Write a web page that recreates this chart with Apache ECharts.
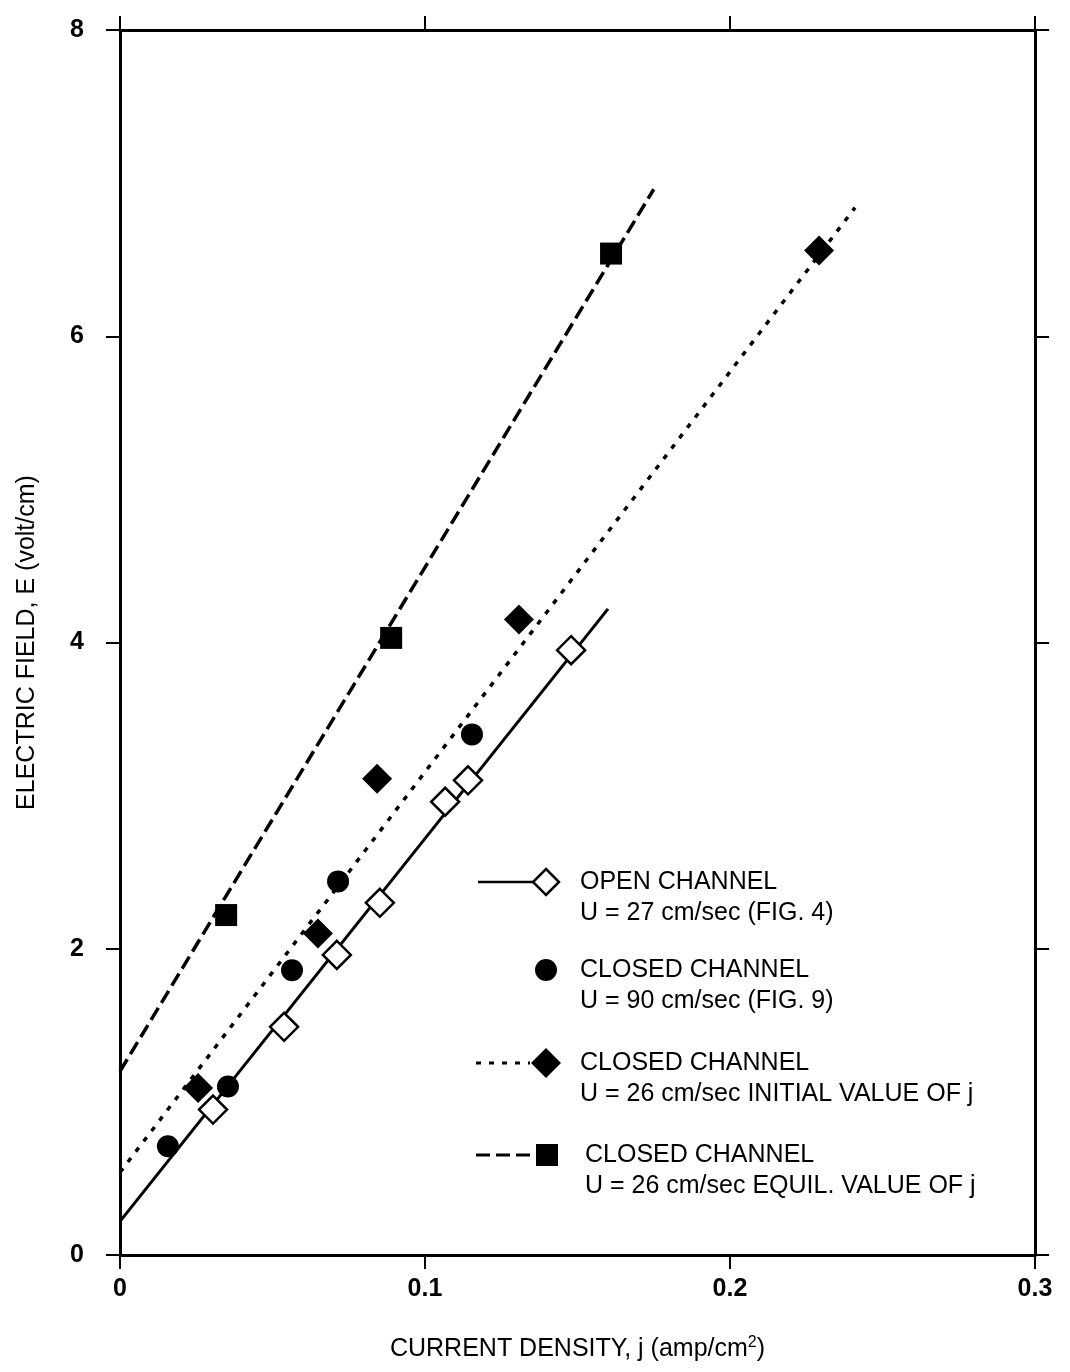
<!DOCTYPE html>
<html><head><meta charset="utf-8">
<script src="https://cdn.jsdelivr.net/npm/echarts@6/dist/echarts.min.js"></script>
<style>html,body{margin:0;padding:0;background:#fff}#c{width:1070px;height:1372px}</style>
</head><body><div id="c"></div>
<script>
// Data
const openJ = [0.0305, 0.0538, 0.0711, 0.0852, 0.1066, 0.1141, 0.1479];
const openE = [0.95, 1.49, 1.96, 2.30, 2.96, 3.10, 3.95];
const closed90J = [0.0157, 0.0354, 0.0564, 0.0715, 0.1154];
const closed90E = [0.71, 1.10, 1.86, 2.44, 3.40];
const initJ = [0.0256, 0.0649, 0.0843, 0.1308, 0.2292];
const initE = [1.09, 2.10, 3.11, 4.15, 6.56];
const equilJ = [0.0348, 0.0889, 0.161];
const equilE = [2.22, 4.03, 6.54];
// fitted lines (end points)
const openFitJ = [0, 0.160];  const openFitE = [0.22, 4.22];
const initFitJ = [0, 0.241];  const initFitE = [0.54, 6.84];
const equilFitJ = [0, 0.175]; const equilFitE = [1.20, 6.96];
// axis ticks
const xTicks = [0, 0.1, 0.2, 0.3];
const yTicks = [0, 2, 4, 6, 8];
const xLabels = ['0', '0.1', '0.2', '0.3'];
const yLabels = ['0', '2', '4', '6', '8'];
const legendLines = [
  ['OPEN CHANNEL', 'U = 27 cm/sec (FIG. 4)'],
  ['CLOSED CHANNEL', 'U = 90 cm/sec (FIG. 9)'],
  ['CLOSED CHANNEL', 'U = 26 cm/sec INITIAL VALUE OF j'],
  ['CLOSED CHANNEL', 'U = 26 cm/sec EQUIL. VALUE OF j']
];

const zip = (a, b) => a.map((v, i) => [v, b[i]]);
const FONT = 'Liberation Sans';
const fmtX = v => { const i = xTicks.findIndex(t => Math.abs(t - v) < 1e-9); return i >= 0 ? xLabels[i] : ''; };
const fmtY = v => { const i = yTicks.findIndex(t => Math.abs(t - v) < 1e-9); return i >= 0 ? yLabels[i] : ''; };

const axisCommon = {
  axisLine: { show: true, onZero: false, lineStyle: { color: '#000', width: 3 } },
  axisTick: { show: true, length: 14, lineStyle: { color: '#000', width: 2 } },
  splitLine: { show: false }
};

const chart = echarts.init(document.getElementById('c'), null, { renderer: 'canvas' });

// legend graphics
const lx = 478, ly = [882, 970, 1063, 1155], lh = 31;
const g = [];
g.push({ type: 'line', shape: { x1: lx, y1: ly[0], x2: lx + 56, y2: ly[0] }, style: { stroke: '#000', lineWidth: 2.5 } });
g.push({ type: 'polygon', shape: { points: [[546, ly[0] - 13], [559, ly[0]], [546, ly[0] + 13], [533, ly[0]]] }, style: { fill: '#fff', stroke: '#000', lineWidth: 2.5 } });
g.push({ type: 'circle', shape: { cx: 546, cy: ly[1], r: 11 }, style: { fill: '#000' } });
g.push({ type: 'line', shape: { x1: lx - 2, y1: ly[2], x2: lx + 52, y2: ly[2] }, style: { stroke: '#000', lineWidth: 3, lineDash: [5, 8] } });
g.push({ type: 'polygon', shape: { points: [[546, ly[2] - 15], [561, ly[2]], [546, ly[2] + 15], [531, ly[2]]] }, style: { fill: '#000' } });
g.push({ type: 'line', shape: { x1: lx - 2, y1: ly[3], x2: lx + 60, y2: ly[3] }, style: { stroke: '#000', lineWidth: 3, lineDash: [14, 6] } });
g.push({ type: 'rect', shape: { x: 536, y: ly[3] - 11, width: 22, height: 22 }, style: { fill: '#000' } });
const tx = [580, 580, 580, 585];
legendLines.forEach((pair, i) => {
  pair.forEach((t, k) => {
    g.push({ type: 'text', x: tx[i], y: ly[i] + k * lh, style: { text: t, font: '25px "' + FONT + '"', fill: '#000', textVerticalAlign: 'middle' } });
  });
});

chart.setOption({
  animation: false,
  backgroundColor: '#fff',
  grid: { left: 120, right: 35, top: 30, bottom: 117 },
  xAxis: [
    Object.assign({}, axisCommon, {
      type: 'value', min: 0, max: 0.3, interval: 0.1, position: 'bottom',
      axisLabel: { formatter: fmtX, color: '#000', fontFamily: FONT, fontSize: 25, fontWeight: 'bold', margin: 22 },
      name: 'CURRENT DENSITY, j (amp/cm{sup|2})', nameLocation: 'middle', nameGap: 80,
      nameTextStyle: { color: '#000', fontFamily: FONT, fontSize: 25, rich: { sup: { fontSize: 16, verticalAlign: 'top', padding: [0, 0, 12, 0], color: '#000', fontFamily: FONT } } }
    }),
    Object.assign({}, axisCommon, {
      type: 'value', min: 0, max: 0.3, interval: 0.1, position: 'top',
      axisLabel: { show: false }
    })
  ],
  yAxis: [
    Object.assign({}, axisCommon, {
      type: 'value', min: 0, max: 8, interval: 2, position: 'left',
      axisLabel: { formatter: fmtY, color: '#000', fontFamily: FONT, fontSize: 25, fontWeight: 'bold', margin: 36 },
      name: 'ELECTRIC FIELD, E (volt/cm)', nameLocation: 'middle', nameGap: 80, nameRotate: 90,
      nameTextStyle: { color: '#000', fontFamily: FONT, fontSize: 25 }
    }),
    Object.assign({}, axisCommon, {
      type: 'value', min: 0, max: 8, interval: 2, position: 'right',
      axisLabel: { show: false }
    })
  ],
  series: [
    { type: 'line', data: zip(openFitJ, openFitE), showSymbol: false, symbol: 'none', lineStyle: { color: '#000', width: 3, type: 'solid' }, z: 1 },
    { type: 'line', data: zip(initFitJ, initFitE), showSymbol: false, symbol: 'none', lineStyle: { color: '#000', width: 3.5, type: [5, 8] }, z: 1 },
    { type: 'line', data: zip(equilFitJ, equilFitE), showSymbol: false, symbol: 'none', lineStyle: { color: '#000', width: 3.5, type: [14, 6] }, z: 1 },
    { type: 'scatter', data: zip(closed90J, closed90E), symbol: 'circle', symbolSize: 22, itemStyle: { color: '#000', opacity: 1 }, z: 3 },
    { type: 'scatter', data: zip(initJ, initE), symbol: 'diamond', symbolSize: 30, itemStyle: { color: '#000', opacity: 1 }, z: 3 },
    { type: 'scatter', data: zip(equilJ, equilE), symbol: 'rect', symbolSize: 22, itemStyle: { color: '#000', opacity: 1 }, z: 3 },
    { type: 'scatter', data: zip(openJ, openE), symbol: 'diamond', symbolSize: 28, itemStyle: { color: '#fff', borderColor: '#000', borderWidth: 2.5, opacity: 1 }, z: 4 }
  ],
  graphic: g
});
</script>
</body></html>
